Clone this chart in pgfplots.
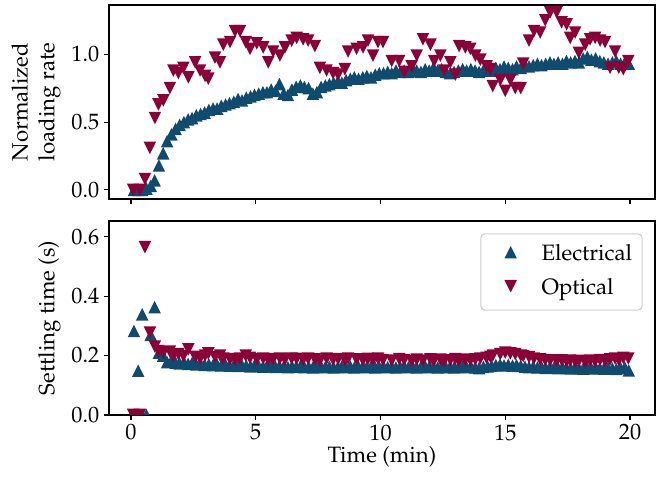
\documentclass[border=0pt]{standalone}
\usepackage[T1]{fontenc}
\usepackage{mathpazo}
\usepackage{pgfplots}
\usepackage{pgfplotstable}
\pgfplotsset{compat=1.18}

\definecolor{elec}{RGB}{14,75,110}
\definecolor{opt}{RGB}{140,0,56}

% matplotlib-like triangles (width = height)
\pgfdeclareplotmark{tup}{%
  \pgfpathmoveto{\pgfqpoint{0pt}{\pgfplotmarksize}}%
  \pgfpathlineto{\pgfqpoint{-\pgfplotmarksize}{-\pgfplotmarksize}}%
  \pgfpathlineto{\pgfqpoint{\pgfplotmarksize}{-\pgfplotmarksize}}%
  \pgfpathclose\pgfusepathqfill}
\pgfdeclareplotmark{tdown}{%
  \pgfpathmoveto{\pgfqpoint{0pt}{-\pgfplotmarksize}}%
  \pgfpathlineto{\pgfqpoint{-\pgfplotmarksize}{\pgfplotmarksize}}%
  \pgfpathlineto{\pgfqpoint{\pgfplotmarksize}{\pgfplotmarksize}}%
  \pgfpathclose\pgfusepathqfill}

% electrical: time (min), normalized loading rate, settling time (s)
\pgfplotstableread{
t load settle
0.12 0.00 0.283
0.29 0.00 0.149
0.45 0.00 0.339
0.62 0.01 0.000
0.79 0.03 0.270
0.95 0.07 0.363
1.12 0.18 0.210
1.29 0.27 0.200
1.45 0.36 0.178
1.62 0.41 0.182
1.79 0.45 0.176
1.95 0.48 0.174
2.12 0.50 0.178
2.29 0.52 0.172
2.45 0.53 0.175
2.62 0.55 0.170
2.79 0.56 0.173
2.95 0.57 0.169
3.12 0.59 0.171
3.29 0.60 0.168
3.45 0.60 0.170
3.62 0.62 0.167
3.79 0.63 0.169
3.95 0.64 0.166
4.12 0.65 0.168
4.29 0.67 0.165
4.45 0.66 0.167
4.62 0.68 0.166
4.79 0.69 0.164
4.95 0.70 0.167
5.12 0.71 0.165
5.29 0.72 0.163
5.45 0.72 0.166
5.62 0.74 0.164
5.79 0.73 0.162
5.95 0.78 0.165
6.12 0.71 0.163
6.29 0.70 0.161
6.45 0.74 0.164
6.62 0.76 0.162
6.79 0.77 0.165
6.95 0.76 0.161
7.12 0.75 0.163
7.29 0.71 0.160
7.45 0.72 0.162
7.62 0.76 0.164
7.79 0.77 0.161
7.95 0.78 0.163
8.12 0.79 0.160
8.29 0.80 0.162
8.45 0.79 0.164
8.62 0.81 0.161
8.79 0.82 0.163
8.95 0.83 0.160
9.12 0.82 0.162
9.29 0.83 0.165
9.45 0.84 0.161
9.62 0.83 0.163
9.79 0.85 0.160
9.95 0.86 0.162
10.12 0.86 0.164
10.29 0.87 0.161
10.45 0.86 0.163
10.62 0.88 0.160
10.79 0.87 0.162
10.95 0.88 0.164
11.12 0.87 0.161
11.29 0.89 0.163
11.45 0.88 0.160
11.62 0.87 0.162
11.79 0.89 0.164
11.95 0.88 0.161
12.12 0.90 0.163
12.29 0.88 0.160
12.45 0.89 0.162
12.62 0.87 0.161
12.79 0.86 0.163
12.95 0.87 0.160
13.12 0.88 0.162
13.29 0.89 0.164
13.45 0.88 0.161
13.62 0.89 0.163
13.79 0.88 0.160
13.95 0.87 0.158
14.12 0.88 0.162
14.29 0.89 0.164
14.45 0.88 0.166
14.62 0.90 0.168
14.79 0.89 0.170
14.95 0.91 0.167
15.12 0.90 0.169
15.29 0.89 0.166
15.45 0.91 0.168
15.62 0.90 0.165
15.79 0.92 0.163
15.95 0.91 0.161
16.12 0.92 0.163
16.29 0.93 0.160
16.45 0.92 0.162
16.62 0.93 0.159
16.79 0.94 0.161
16.95 0.93 0.160
17.12 0.94 0.158
17.29 0.93 0.161
17.45 0.95 0.159
17.62 0.94 0.157
17.79 0.95 0.160
17.95 0.94 0.158
18.12 0.97 0.156
18.29 0.98 0.159
18.45 0.96 0.157
18.62 0.97 0.160
18.79 0.95 0.158
18.95 0.94 0.156
19.12 0.93 0.159
19.29 0.94 0.157
19.45 0.95 0.155
19.62 0.93 0.158
19.79 0.94 0.160
19.95 0.93 0.150
}\elecdata

% optical: time (min), normalized loading rate, settling time (s)
\pgfplotstableread{
t load settle
0.09 0.00 0.000
0.36 0.00 0.000
0.56 0.08 0.565
0.76 0.31 0.277
0.96 0.53 0.230
1.10 0.63 0.215
1.30 0.66 0.210
1.56 0.75 0.213
1.70 0.88 0.200
1.90 0.86 0.205
2.10 0.90 0.198
2.30 0.83 0.221
2.57 0.94 0.196
2.77 0.88 0.190
2.97 0.84 0.200
3.10 0.82 0.207
3.37 0.975 0.195
3.57 0.94 0.200
3.70 1.07 0.190
3.97 1.09 0.188
4.17 1.17 0.185
4.37 1.17 0.190
4.60 1.09 0.200
4.77 1.04 0.192
5.04 1.08 0.187
5.30 1.05 0.190
5.50 0.94 0.185
5.70 1.02 0.188
5.97 0.99 0.190
6.17 1.05 0.186
6.44 1.10 0.190
6.64 1.12 0.189
6.90 1.11 0.185
7.10 1.10 0.190
7.37 1.06 0.187
7.57 0.90 0.183
7.84 0.88 0.190
8.10 0.86 0.186
8.30 0.85 0.188
8.57 0.89 0.185
8.70 1.02 0.190
9.04 1.04 0.187
9.30 1.05 0.184
9.50 1.10 0.189
9.70 0.99 0.186
9.90 1.09 0.190
10.10 1.09 0.185
10.45 0.95 0.183
10.75 0.95 0.188
10.95 0.87 0.185
11.25 0.91 0.182
11.45 0.99 0.186
11.70 1.11 0.183
12.00 1.07 0.187
12.15 0.95 0.184
12.40 0.99 0.186
12.55 0.88 0.182
12.80 0.94 0.185
13.00 0.85 0.188
13.15 1.06 0.183
13.40 1.05 0.186
13.60 1.04 0.184
13.80 0.99 0.187
14.00 0.96 0.190
14.25 0.91 0.192
14.40 0.89 0.196
14.50 0.765 0.200
14.80 0.81 0.205
15.00 0.73 0.210
15.20 0.81 0.207
15.40 0.75 0.205
15.62 0.75 0.200
15.72 0.93 0.198
15.95 1.10 0.195
16.15 1.17 0.190
16.40 1.16 0.187
16.60 1.25 0.185
16.80 1.31 0.184
17.06 1.31 0.182
17.26 1.235 0.184
17.46 1.22 0.180
17.60 1.12 0.183
17.80 1.16 0.180
17.95 1.01 0.182
18.20 1.07 0.179
18.40 1.11 0.183
18.60 1.12 0.180
18.80 1.10 0.185
19.00 1.09 0.182
19.20 0.90 0.187
19.40 1.02 0.190
19.55 0.90 0.184
19.73 0.89 0.192
19.93 0.95 0.190
}\optdata

\pgfplotsset{
  common/.style={
    scale only axis,
    width=393.12pt, height=139.68pt,
    xmin=-0.88, xmax=21.0,
    xtick={0,5,10,15,20},
    tick align=outside,
    xtick pos=left, ytick pos=left,
    major tick length=3.5pt,
    tick style={black, line width=0.8pt},
    axis line style={line width=0.8pt},
    font=\fontsize{16}{19.2}\selectfont,
    y tick label style={/pgf/number format/fixed,
      /pgf/number format/fixed zerofill,
      /pgf/number format/precision=1},
    ylabel style={at={(axis description cs:-0.088,0.5)}, anchor=south, inner sep=0pt},
    xlabel style={at={(axis description cs:0.5,-0.2474)}, anchor=base, inner sep=0pt},
  },
  elecstyle/.style={only marks, color=elec, mark=tup, mark size=4.5pt,
    mark options={fill=elec}},
  optstyle/.style={only marks, color=opt, mark=tdown, mark size=4.5pt,
    mark options={fill=opt}},
}

\begin{document}
\begin{tikzpicture}
\begin{axis}[common, at={(0pt,0pt)}, anchor=north west,
  ymin=-0.067, ymax=1.363, ytick={0,0.5,1},
  xticklabels={},
  ylabel={Normalized\\loading rate}, ylabel style={align=center}]
\addplot[elecstyle] table[x=t, y=load] {\elecdata};
\addplot[optstyle] table[x=t, y=load] {\optdata};
\end{axis}

\begin{axis}[common, at={(0pt,-155.52pt)}, anchor=north west,
  ymin=0, ymax=0.653, ytick={0,0.2,0.4,0.6},
  clip marker paths=true,
  xlabel={Time (min)}, ylabel={Settling time (s)},
  legend cell align=left,
  legend style={at={(axis description cs:0.9775,0.9366)}, anchor=north east,
    draw=black!20, line width=0.8pt, rounded corners=3pt, fill=white,
    inner xsep=7.2pt, inner ysep=6.2pt, row sep=6.5pt,
    nodes={inner sep=0pt, text height=13pt, text depth=5pt, anchor=west},
    /tikz/every even column/.append style={column sep=6.2pt}},
  legend image code/.code={%
    \path (0pt,0pt) (35.8pt,0pt);
    \draw[#1] plot[only marks] coordinates {(13.9pt,2pt)};}]
\addplot[elecstyle] table[x=t, y=settle] {\elecdata};
\addlegendentry{Electrical}
\addplot[optstyle] table[x=t, y=settle] {\optdata};
\addlegendentry{Optical}
\end{axis}
\pgfresetboundingbox
\useasboundingbox (-78.48pt,3.6pt) rectangle (398.16pt,-341.28pt);
\end{tikzpicture}
\end{document}
